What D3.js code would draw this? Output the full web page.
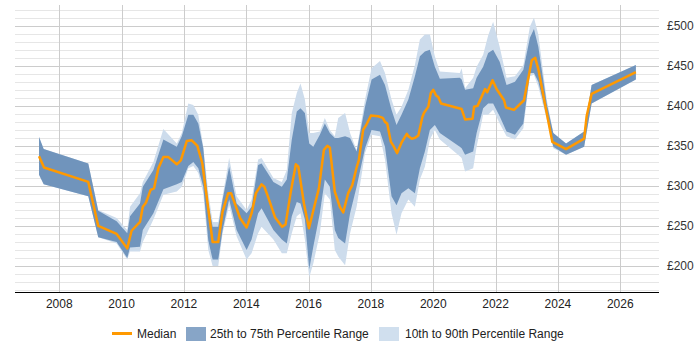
<!DOCTYPE html>
<html>
<head>
<meta charset="utf-8">
<script src="https://cdn.jsdelivr.net/npm/d3@7"></script>
<style>
  body { margin: 0; background: #fff; }
  svg { display: block; font-family: "Liberation Sans", Arial, sans-serif; }
</style>
</head>
<body>
<svg id="chart" width="700" height="350"></svg>
<script>
'use strict';

// median line, decimal year and daily rate (GBP)
var medianYears = [2007.35, 2007.51, 2008.93, 2009.25, 2009.84, 2010.18, 2010.32, 2010.59, 2010.68, 2010.78,
  2010.93, 2011.04, 2011.18, 2011.34, 2011.50, 2011.77, 2011.90, 2012.09, 2012.25, 2012.43,
  2012.59, 2012.92, 2013.10, 2013.24, 2013.42, 2013.51, 2013.80, 2014.01, 2014.17, 2014.31,
  2014.49, 2014.58, 2014.71, 2014.92, 2015.15, 2015.26, 2015.42, 2015.59, 2015.67, 2015.85,
  2016.01, 2016.18, 2016.33, 2016.49, 2016.60, 2016.68, 2016.84, 2017.00, 2017.11, 2017.27,
  2017.40, 2017.54, 2017.61, 2017.75, 2017.86, 2018.00, 2018.23, 2018.38, 2018.45, 2018.52,
  2018.64, 2018.72, 2018.84, 2018.98, 2019.15, 2019.20, 2019.31, 2019.41, 2019.52, 2019.65,
  2019.70, 2019.84, 2019.92, 2020.00, 2020.09, 2020.16, 2020.25, 2020.91, 2021.02, 2021.26,
  2021.31, 2021.42, 2021.66, 2021.73, 2021.90, 2022.03, 2022.17, 2022.27, 2022.33, 2022.59,
  2022.91, 2023.16, 2023.27, 2023.37, 2023.62, 2023.82, 2024.26, 2024.84, 2024.92, 2025.08,
  2026.50];
var medianRate = [337, 323, 305, 250, 240, 222, 244, 255, 274, 279,
  295, 297, 322, 336, 336, 327, 332, 356, 357, 350,
  328, 230, 230, 268, 291, 291, 260, 248, 266, 291,
  302, 299, 285, 261, 249, 252, 291, 327, 324, 278,
  247, 274, 297, 345, 350, 348, 293, 274, 267, 291,
  301, 323, 332, 370, 377, 388, 387, 385, 380, 378,
  355, 350, 341, 354, 365, 362, 359, 360, 363, 386,
  391, 399, 416, 420, 413, 411, 403, 396, 383, 384,
  399, 400, 421, 417, 432, 421, 413, 407, 398, 395,
  407, 457, 460, 446, 395, 355, 346, 359, 387, 415,
  442];

// percentile bands
var bandYears = [2007.35, 2007.50, 2008.93, 2009.25, 2009.84, 2010.18, 2010.27, 2010.59, 2010.68, 2011.02,
  2011.34, 2011.77, 2011.93, 2012.14, 2012.30, 2012.46, 2012.62, 2012.78, 2012.92, 2013.10,
  2013.24, 2013.45, 2013.69, 2014.01, 2014.17, 2014.38, 2014.49, 2014.87, 2015.14, 2015.30,
  2015.46, 2015.62, 2015.74, 2015.88, 2016.02, 2016.15, 2016.36, 2016.52, 2016.68, 2016.84,
  2016.95, 2017.17, 2017.33, 2017.54, 2017.81, 2018.02, 2018.29, 2018.45, 2018.66, 2018.82,
  2018.98, 2019.20, 2019.41, 2019.57, 2019.73, 2019.89, 2020.05, 2020.21, 2020.85, 2020.91,
  2021.02, 2021.28, 2021.39, 2021.60, 2021.76, 2021.92, 2022.13, 2022.35, 2022.62, 2022.89,
  2023.10, 2023.23, 2023.37, 2023.64, 2023.85, 2024.26, 2024.84, 2025.08, 2026.50];
var p90 = [361, 346, 328, 270, 260, 245, 274, 291, 305, 330,
  371, 353, 366, 403, 401, 389, 349, 292, 255, 255,
  287, 335, 287, 270, 283, 333, 335, 310, 305, 320,
  391, 416, 428, 408, 366, 366, 368, 385, 370, 362,
  385, 391, 366, 345, 408, 447, 456, 441, 408, 389,
  399, 420, 451, 483, 489, 489, 462, 443, 441, 447,
  422, 435, 449, 464, 488, 505, 474, 435, 437, 451,
  499, 510, 489, 408, 366, 353, 368, 426, 451];
var p75 = [361, 346, 328, 269, 256, 241, 262, 278, 299, 320,
  358, 349, 362, 389, 389, 378, 347, 278, 249, 249,
  283, 324, 278, 266, 274, 326, 328, 305, 299, 308,
  358, 393, 397, 391, 353, 349, 364, 378, 366, 360,
  360, 362, 360, 343, 399, 433, 439, 426, 395, 376,
  389, 408, 437, 462, 468, 470, 449, 434, 435, 433,
  420, 422, 435, 449, 466, 470, 455, 426, 430, 445,
  485, 496, 474, 403, 366, 353, 368, 426, 451];
var p25 = [314, 302, 287, 236, 230, 210, 223, 224, 245, 266,
  296, 302, 305, 325, 330, 322, 299, 232, 208, 208,
  245, 283, 245, 220, 233, 266, 272, 245, 233, 228,
  262, 280, 278, 258, 196, 224, 266, 308, 299, 245,
  235, 228, 266, 299, 347, 370, 368, 349, 287, 276,
  291, 297, 291, 322, 343, 370, 376, 366, 349, 347,
  339, 343, 366, 397, 403, 403, 387, 368, 364, 378,
  441, 441, 430, 387, 349, 339, 349, 403, 433];
var p10 = [314, 302, 287, 236, 228, 208, 218, 218, 230, 258,
  289, 293, 299, 322, 325, 316, 291, 220, 200, 200,
  241, 276, 237, 208, 216, 241, 249, 233, 216, 216,
  241, 262, 266, 233, 186, 203, 241, 291, 283, 220,
  212, 201, 241, 274, 341, 364, 362, 333, 266, 239,
  266, 283, 274, 308, 324, 358, 370, 358, 337, 335,
  318, 322, 349, 389, 389, 395, 378, 362, 358, 372,
  437, 439, 424, 383, 347, 339, 349, 403, 433];

// axis ticks and legend
var xTicks = [2008, 2010, 2012, 2014, 2016, 2018, 2020, 2022, 2024, 2026];
var yTicks = [200, 250, 300, 350, 400, 450, 500];
var yMinorTicks = d3.range(170, 521, 10);
var legendLabels = ['Median', '25th to 75th Percentile Range', '10th to 90th Percentile Range'];

// colours
var medianColor = '#ff9900';
var innerColor = '#7094bc';
var outerColor = '#cddcec';

var svg = d3.select('#chart');
var plot = { left: 15, right: 659, top: 5, bottom: 292 };

var x = d3.scaleLinear().domain([2006.579, 2027.242]).range([plot.left, plot.right]);
var y = d3.scaleLinear().domain([167.5, 526]).range([plot.bottom, plot.top]);

// grid lines
var grid = svg.append('g').attr('class', 'grid');
grid.selectAll('line.minor').data(yMinorTicks).enter().append('line')
  .attr('class', 'minor')
  .attr('x1', plot.left).attr('x2', plot.right)
  .attr('y1', function (d) { return Math.round(y(d)) + 0.5; })
  .attr('y2', function (d) { return Math.round(y(d)) + 0.5; })
  .attr('stroke', function (d) { return d % 50 === 0 ? '#cccccc' : '#e6e6e6'; })
  .attr('stroke-width', 1);
grid.selectAll('line.vert').data(xTicks).enter().append('line')
  .attr('class', 'vert')
  .attr('y1', plot.top).attr('y2', plot.bottom)
  .attr('x1', function (d) { return Math.round(x(d)) + 0.5; })
  .attr('x2', function (d) { return Math.round(x(d)) + 0.5; })
  .attr('stroke', '#cccccc')
  .attr('stroke-width', 1);

// bands
var bands = bandYears.map(function (yr, i) {
  return { yr: yr, p10: p10[i], p25: p25[i], p75: p75[i], p90: p90[i] };
});

var outerArea = d3.area()
  .x(function (d) { return x(d.yr); })
  .y0(function (d) { return y(d.p10); })
  .y1(function (d) { return y(d.p90); });
var innerArea = d3.area()
  .x(function (d) { return x(d.yr); })
  .y0(function (d) { return y(d.p25); })
  .y1(function (d) { return y(d.p75); });

svg.append('path').datum(bands).attr('d', outerArea).attr('fill', outerColor);
svg.append('path').datum(bands).attr('d', innerArea).attr('fill', innerColor);

// median
var median = medianYears.map(function (yr, i) { return { yr: yr, v: medianRate[i] }; });
var line = d3.line()
  .x(function (d) { return x(d.yr); })
  .y(function (d) { return y(d.v); });
svg.append('path').datum(median)
  .attr('d', line)
  .attr('fill', 'none')
  .attr('stroke', medianColor)
  .attr('stroke-width', 2.5)
  .attr('stroke-linejoin', 'round');

// x axis
svg.append('line')
  .attr('x1', plot.left).attr('x2', plot.right)
  .attr('y1', plot.bottom + 0.5).attr('y2', plot.bottom + 0.5)
  .attr('stroke', '#000').attr('stroke-width', 1.2);
svg.append('g').selectAll('text').data(xTicks).enter().append('text')
  .attr('x', function (d) { return x(d); })
  .attr('y', 308)
  .attr('text-anchor', 'middle')
  .attr('font-size', 12)
  .attr('fill', '#222')
  .text(function (d) { return d; });

// y labels on the right
svg.append('g').selectAll('text').data(yTicks).enter().append('text')
  .attr('x', 667)
  .attr('y', function (d) { return y(d) + 4; })
  .attr('font-size', 12)
  .attr('fill', '#333')
  .text(function (d) { return '£' + d; });

// legend
var legend = svg.append('g').attr('class', 'legend');
legend.append('line')
  .attr('x1', 112).attr('x2', 132).attr('y1', 333.5).attr('y2', 333.5)
  .attr('stroke', medianColor).attr('stroke-width', 3);
legend.append('rect').attr('x', 186).attr('y', 327).attr('width', 20).attr('height', 14).attr('fill', '#87a5c7');
legend.append('rect').attr('x', 379).attr('y', 327).attr('width', 20).attr('height', 14).attr('fill', '#d0dfee');
legend.selectAll('text').data(legendLabels).enter().append('text')
  .attr('x', function (d, i) { return [137, 210, 405][i]; })
  .attr('y', 338)
  .attr('font-size', 12)
  .attr('fill', '#222')
  .text(function (d) { return d; });
</script>
</body>
</html>
